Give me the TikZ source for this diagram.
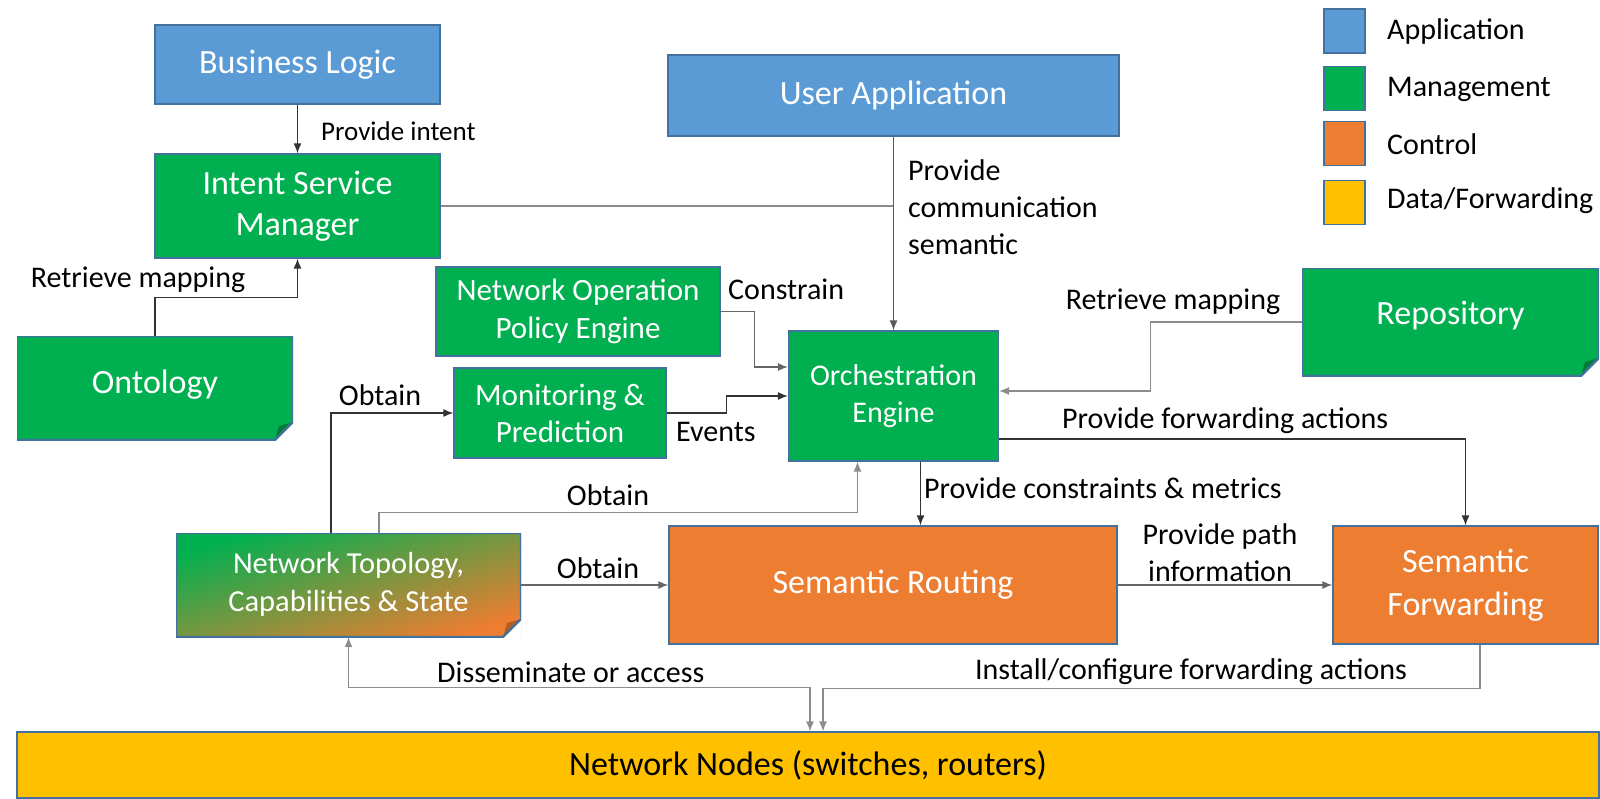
\documentclass[tikz,border=0pt]{standalone}
\usepackage{fontspec}
\setmainfont{Carlito}
\usetikzlibrary{arrows.meta, positioning, calc}

\definecolor{appblue}{HTML}{5B9BD5}
\definecolor{mgmtgreen}{HTML}{00B050}
\definecolor{ctrlorange}{HTML}{ED7D31}
\definecolor{datayellow}{HTML}{FFC000}
\definecolor{edgeblue}{HTML}{41719C}
\definecolor{blendmid}{HTML}{A4A64A}

\tikzset{
  blk/.style={rectangle, draw=edgeblue, line width=1.2pt, text=white, align=center, inner sep=0pt, font=\fontsize{34}{41}\selectfont},
  app/.style={blk, fill=appblue},
  mgmt/.style={blk, fill=mgmtgreen},
  ctrl/.style={blk, fill=ctrlorange},
  note/.style={rectangle, inner sep=0pt, align=center, text=white, font=\fontsize{34}{41}\selectfont,
    path picture={
      \path (path picture bounding box.south east) coordinate (se)
            (path picture bounding box.north east) coordinate (ne)
            (path picture bounding box.north west) coordinate (nw)
            (path picture bounding box.south west) coordinate (sw);
      \fill[white] ([xshift=-21pt,yshift=-3pt]se) -- ([xshift=3pt,yshift=-3pt]se) -- ([xshift=3pt,yshift=21pt]se) -- cycle;
      \fill[#1] ([xshift=-18pt]se) -- ([yshift=18pt]se) -- ([xshift=-14pt,yshift=14pt]se) -- cycle;
      \draw[edgeblue, line width=2.4pt] (nw) -- (ne) -- ([yshift=18pt]se) -- ([xshift=-18pt]se) -- (sw) -- cycle;
    }},
  lbl/.style={inner sep=0pt, font=\fontsize{30}{37}\selectfont, align=left},
  key/.style={rectangle, draw=edgeblue, line width=1.2pt, minimum width=41pt, minimum height=44pt},
  link/.style={draw=black!80, line width=1.3pt},
  arr/.style={link, -{Latex[length=10pt,width=8pt]}},
  biarr/.style={link, {Latex[length=10pt,width=8pt]}-{Latex[length=10pt,width=8pt]}},
  light/.style={draw=black!45},
}

\begin{document}
\begin{tikzpicture}[x=1pt, y=-1pt]
    \useasboundingbox (0,0) rectangle (1600,798);

    % boxes
    \node[app, minimum width=285pt, minimum height=79pt] (bl) at (297.5,64.5) {Business Logic};
    \node[mgmt, minimum width=285pt, minimum height=104pt] (ism) at (297.5,206) {Intent Service\\Manager};
    \node[app, minimum width=451pt, minimum height=81pt] (ua) at (893.5,95.5) {User Application};
    \node[mgmt, minimum width=284pt, minimum height=89pt, font=\fontsize{31}{38}\selectfont] (nope) at (578,311.5) {Network Operation\\Policy Engine};
    \node[mgmt, minimum width=212pt, minimum height=90pt, font=\fontsize{31}{37}\selectfont] (mp) at (560,413) {Monitoring \&\\Prediction};
    \node[mgmt, minimum width=210pt, minimum height=130pt, font=\fontsize{30}{37}\selectfont] (orch) at (893.5,396) {Orchestration\\Engine};
    \node[note=mgmtgreen!70!black, fill=mgmtgreen, minimum width=297pt, minimum height=108pt] (repo) at (1450.5,322) {\raisebox{18pt}{Repository}};
    \node[note=mgmtgreen!70!black, fill=mgmtgreen, minimum width=276pt, minimum height=104pt] (onto) at (155,388) {\raisebox{12pt}{Ontology}};
    \node[note=ctrlorange!75!black, top color=mgmtgreen, middle color=blendmid, bottom color=ctrlorange, shading angle=17,
          minimum width=345pt, minimum height=104pt, font=\fontsize{30.5}{38}\selectfont] (ntcs) at (348.5,585)
          {\raisebox{16pt}{\begin{tabular}{@{}c@{}}Network Topology,\\Capabilities \& State\end{tabular}}};
    \node[ctrl, minimum width=448pt, minimum height=118pt] (sr) at (893,585) {Semantic Routing};
    \node[ctrl, minimum width=265pt, minimum height=118pt, font=\fontsize{34}{43}\selectfont] (sf) at (1465.5,585) {Semantic\\Forwarding};
    \node[blk, fill=datayellow, text=black, minimum width=1582pt, minimum height=66pt] (nn) at (808,765) {Network Nodes (switches, routers)};

    % legend
    \node[key, fill=appblue] (kapp) at (1344.5,31) {};
    \node[key, fill=mgmtgreen] (kmgmt) at (1344.5,88.5) {};
    \node[key, fill=ctrlorange] (kctrl) at (1344.5,143.5) {};
    \node[key, fill=datayellow] (kdata) at (1344.5,202.5) {};
    \node[lbl, anchor=west] (tapp) at (1387,32) {Application};
    \node[lbl, anchor=west] (tmgmt) at (1387,89) {Management};
    \node[lbl, anchor=west] (tctrl) at (1387,144) {Control};
    \node[lbl, anchor=west] (tdata) at (1387,201) {Data/Forwarding};

    % connectors
    \draw[arr] (bl) -- (ism);
    \draw[arr] (onto.north) -- ++(0,-38) -| (ism.south);
    \draw[link, light] (ism.east) -- (ism.east -| ua.south);
    \draw[arr, draw=black!65] (ua) -- (orch);
    \draw[arr, draw=black!60] (nope.east) -- ++(34,0) |- ([yshift=29pt]orch.west);
    \draw[arr] (mp.east) -- ++(60,0) |- (orch.west);
    \draw[arr, light] (repo.west) -- ++(-151,0) |- ([yshift=5pt]orch.east);
    \draw[arr] ([yshift=-43pt]orch.east) -| (sf.north);
    \draw[arr] ([xshift=27pt]orch.south) -- ([xshift=27pt]orch.south |- sr.north);
    \draw[arr, light] ([xshift=30.5pt]ntcs.north) -- ++(0,-20) -| ([xshift=-36pt]orch.south);
    \draw[arr] ([xshift=-17.5pt]ntcs.north) |- (mp.west);
    \draw[arr, draw=black!60] (ntcs.east) -- (sr.west);
    \draw[arr, draw=black!60] (sr) -- (sf);
    \draw[arr, light] ([xshift=14.5pt]sf.south) -- ++(0,44) -| ([xshift=15pt]nn.north);
    \draw[biarr, light] ([xshift=2pt]nn.north) -- ++(0,-44) -| (ntcs.south);

    % labels
    \node[lbl, anchor=west, font=\fontsize{27}{33}\selectfont] (l_intent) at (321,131) {Provide intent};
    \node[lbl] (l_mapleft) at (138,280) {Retrieve mapping};
    \node[lbl, anchor=west] (l_comm) at (908,207) {Provide\\communication\\semantic};
    \node[lbl, anchor=west] (l_constrain) at (728,289) {Constrain};
    \node[lbl] (l_obtainmp) at (380,395) {Obtain};
    \node[lbl, anchor=west] (l_events) at (676,432) {Events};
    \node[lbl] (l_mapright) at (1173,302) {Retrieve mapping};
    \node[lbl, anchor=west] (l_fwdact) at (1062,421) {Provide forwarding actions};
    \node[lbl] (l_obtainorch) at (608,495) {Obtain};
    \node[lbl, anchor=west] (l_metrics) at (924,488) {Provide constraints \& metrics};
    \node[lbl] (l_obtainsr) at (598,568) {Obtain};
    \node[lbl, align=center] (l_path) at (1220,553) {Provide path\\information};
    \node[lbl, anchor=west] (l_dissem) at (437,672) {Disseminate or access};
    \node[lbl] (l_install) at (1191,672) {Install/configure forwarding actions};

\end{tikzpicture}
\end{document}
